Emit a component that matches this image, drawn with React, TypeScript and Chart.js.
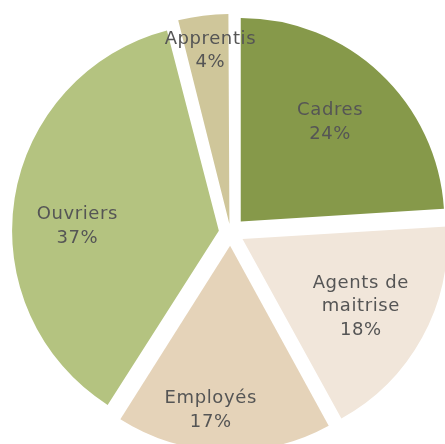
import React, { useEffect, useRef } from "react";
import { Chart, registerables } from "chart.js";

Chart.register(...registerables);

const categories = ["Cadres", "Agents de maitrise", "Employés", "Ouvriers", "Apprentis"];
const labelLines = [["Cadres"], ["Agents de", "maitrise"], ["Employés"], ["Ouvriers"], ["Apprentis"]];
const shares = [24, 18, 17, 37, 4];
const percentLabels = ["24%", "18%", "17%", "37%", "4%"];
const colors = ["#86994a", "#f1e6da", "#e5d3b9", "#b4c380", "#cfc69a"];
const labelRadius = [0.66, 0.66, 0.8, 0.68, 0.83];
const labelAngleShift = [-1.5, 0.5, 5, -7, 1];
const EXPLODE = 15; // desired radial shift in px

// Chart.js ArcElement translates by offset/4 * (1 + (1 - sin(min(PI, circumference))))
function arcShift(offset: number, circ: number) {
  const fix = 1 - Math.sin(Math.min(Math.PI, circ));
  return (offset / 4) * (1 + fix);
}

const labelPlugin = {
  id: "sliceLabels",
  afterDatasetsDraw(chart: any) {
    const ctx = chart.ctx;
    const meta = chart.getDatasetMeta(0);
    ctx.save();
    ctx.fillStyle = "#555555";
    ctx.font = "18px 'DejaVu Sans'";
    (ctx as any).letterSpacing = "0.6px";
    ctx.textAlign = "center";
    ctx.textBaseline = "middle";
    const lh = 23.5;
    meta.data.forEach((arc: any, i: number) => {
      const p = arc.getProps(["x", "y", "startAngle", "endAngle", "outerRadius", "circumference"], true);
      const off = arcShift(arc.options.offset || 0, p.circumference);
      const mid = (p.startAngle + p.endAngle) / 2;
      const vx = p.x + Math.cos(mid) * off;
      const vy = p.y + Math.sin(mid) * off;
      const a = mid + (labelAngleShift[i] * Math.PI) / 180;
      const r = p.outerRadius * labelRadius[i];
      const cx = vx + Math.cos(a) * r;
      const cy = vy + Math.sin(a) * r + 1;
      const lines = [...labelLines[i], percentLabels[i]];
      const top = cy - ((lines.length - 1) * lh) / 2;
      lines.forEach((t, k) => ctx.fillText(t, cx, top + k * lh));
    });
    ctx.restore();
  },
};

export default function App() {
  const ref = useRef<HTMLCanvasElement>(null);
  useEffect(() => {
    document.body.style.overflow = "hidden";
    const total = shares.reduce((s, v) => s + v, 0);
    const chart = new Chart(ref.current!, {
      type: "pie",
      data: {
        labels: categories,
        datasets: [
          {
            data: shares,
            backgroundColor: colors,
            borderWidth: 0,
            offset: (c: any) => {
              const circ = ((c.raw as number) / total) * Math.PI * 2;
              const fix = 1 - Math.sin(Math.min(Math.PI, circ));
              return (EXPLODE * 4) / (1 + fix);
            },
          },
        ],
      },
      options: {
        animation: false,
        responsive: true,
        maintainAspectRatio: false,
        layout: { padding: 0 },
        plugins: { legend: { display: false }, tooltip: { enabled: false } },
      },
      plugins: [labelPlugin],
    } as any);
    return () => chart.destroy();
  }, []);
  // chart area 467px: radius = (467 - 4*EXPLODE)/2 ≈ 203.5, centred at (230, 232)
  return (
    <div style={{ position: "absolute", left: -3.5, top: -1.5, width: 467, height: 467 }}>
      <canvas ref={ref} />
    </div>
  );
}
